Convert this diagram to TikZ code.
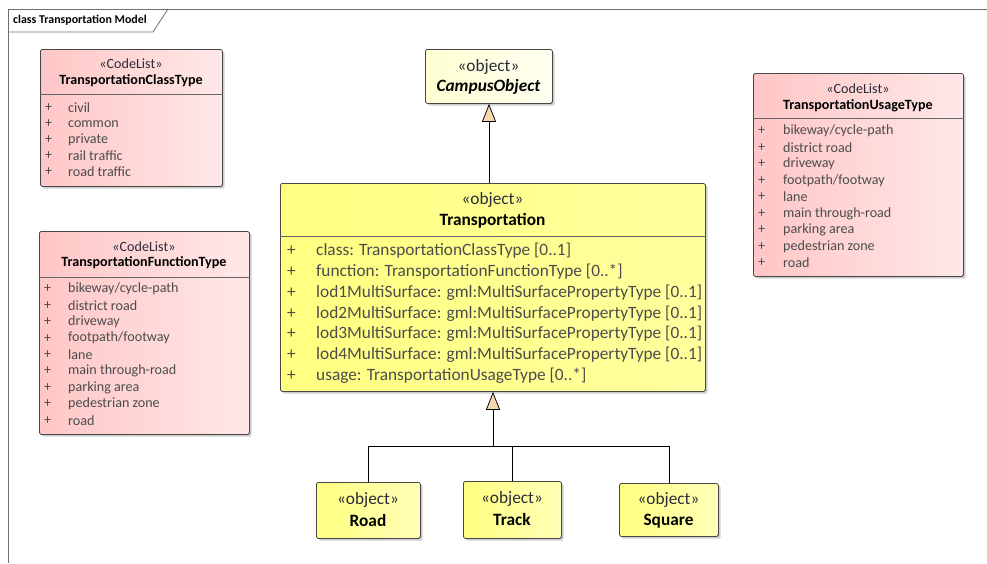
\documentclass[tikz,border=0pt]{standalone}
\usepackage{fontspec}
\setmainfont{Carlito}
\usetikzlibrary{arrows.meta,shadows}

\definecolor{clL}{HTML}{FFC6C6}
\definecolor{clR}{HTML}{FFE8E8}
\definecolor{obL}{HTML}{FFFF80}
\definecolor{obR}{HTML}{FFFFB8}
\definecolor{trR}{HTML}{FFFF9E}
\definecolor{coL}{HTML}{FFFFD2}
\definecolor{coR}{HTML}{FFFFF2}
\definecolor{itemtext}{HTML}{4C4C4C}
\definecolor{stereotext}{HTML}{2B2B3A}
\definecolor{genfill}{HTML}{F7D7AE}
\definecolor{framecol}{HTML}{6E6E6E}

\newcommand{\smallsz}{\fontsize{14.1}{17}\selectfont}
\newcommand{\bigsz}{\fontsize{17.3}{20}\selectfont}

\tikzset{
  umlbox/.style={draw=black!72, line width=0.8pt, rounded corners=1.6pt,
    anchor=north west, inner sep=0pt,
    drop shadow={shadow xshift=2.2pt, shadow yshift=-2.2pt, opacity=0.32, fill=black!60}},
  codelist/.style={umlbox, left color=clL, right color=clR},
  objbox/.style={umlbox, left color=obL, right color=obR},
  absbox/.style={umlbox, left color=coL, right color=coR},
  sepline/.style={draw=black!60, line width=0.7pt},
  stereo/.style={inner sep=0pt, text=stereotext},
  smallstereo/.style={stereo, font=\smallsz},
  bigstereo/.style={stereo, font=\bigsz},
  smallname/.style={inner sep=0pt, font=\smallsz\bfseries},
  bigname/.style={inner sep=0pt, font=\bigsz\bfseries},
  plus/.style={inner sep=0pt, anchor=west, text=itemtext},
  item/.style={inner sep=0pt, anchor=west, text=itemtext},
  smallitem/.style={item, font=\smallsz},
  bigitem/.style={item, font=\bigsz},
  gen/.style={draw=black, line width=0.75pt},
  genhead/.style={gen, -{Triangle[width=14pt, length=18pt, fill=genfill]}},
}

\begin{document}
\begin{tikzpicture}[x=1pt, y=-1pt]
\useasboundingbox (0,0) rectangle (987,563);

% diagram frame with its name tab
\coordinate (fTL) at (8,9);
\coordinate (fTR) at (987,9);
\coordinate (fBL) at (8,563);
\draw[framecol, line width=0.8pt] (fBL) -- (fTL) -- (fTR);
\draw[framecol, line width=0.8pt] (8,32) -- (153,32) -- (168,9);
\node[inner sep=0pt, anchor=west, font=\fontsize{11.9}{13}\selectfont\bfseries] (ftitle) at (13,20) {class Transportation Model};

% ---------- TransportationClassType ----------
\node[codelist, minimum width=182pt, minimum height=137pt] (ct) at (40,49) {};
\draw[sepline] (ct.west |- 0,94) -- (ct.east |- 0,94);
\node[smallstereo] (ct-st) at (131,64) {«CodeList»};
\node[smallname] (ct-nm) at (131,81) {TransportationClassType};
\foreach \t [count=\i from 0] in {civil, common, private, rail traffic, road traffic}{
  \node[plus, font=\smallsz] (ct-p\i) at (45,{108+16*\i}) {+};
  \node[smallitem] (ct-i\i) at (68,{108+16*\i}) {\t};
}

% ---------- TransportationFunctionType ----------
\node[codelist, minimum width=210pt, minimum height=203pt] (ft) at (39,231) {};
\draw[sepline] (ft.west |- 0,277) -- (ft.east |- 0,277);
\node[smallstereo] (ft-st) at (144,247) {«CodeList»};
\node[smallname] (ft-nm) at (144,263) {TransportationFunctionType};
\foreach \t [count=\i from 0] in {bikeway/cycle-path, district road, driveway, footpath/footway, lane, main through-road, parking area, pedestrian zone, road}{
  \node[plus, font=\smallsz] (ft-p\i) at (44,{289+16.4*\i}) {+};
  \node[smallitem] (ft-i\i) at (68,{289+16.4*\i}) {\t};
}

% ---------- TransportationUsageType ----------
\node[codelist, minimum width=210pt, minimum height=203pt] (ut) at (753,73) {};
\draw[sepline] (ut.west |- 0,118) -- (ut.east |- 0,118);
\node[smallstereo] (ut-st) at (858,89) {«CodeList»};
\node[smallname] (ut-nm) at (858,106) {TransportationUsageType};
\foreach \t [count=\i from 0] in {bikeway/cycle-path, district road, driveway, footpath/footway, lane, main through-road, parking area, pedestrian zone, road}{
  \node[plus, font=\smallsz] (ut-p\i) at (758,{131+16.5*\i}) {+};
  \node[smallitem] (ut-i\i) at (783,{131+16.5*\i}) {\t};
}

% ---------- CampusObject (abstract) ----------
\node[absbox, minimum width=127pt, minimum height=54pt] (co) at (425,49) {};
\node[bigstereo] (co-st) at (488.5,67) {«object»};
\node[bigname, font=\bigsz\bfseries\itshape] (co-nm) at (488.5,87) {CampusObject};

% ---------- Transportation ----------
\node[objbox, right color=trR, minimum width=425pt, minimum height=208pt] (tr) at (280,183) {};
\draw[sepline] (tr.west |- 0,236) -- (tr.east |- 0,236);
\node[bigstereo] (tr-st) at (492.5,200) {«object»};
\node[bigname] (tr-nm) at (492.5,221) {Transportation};
\foreach \t [count=\i from 0] in {
  {class: TransportationClassType [0..1]},
  {function: TransportationFunctionType [0..*]},
  {lod1MultiSurface: gml:MultiSurfacePropertyType [0..1]},
  {lod2MultiSurface: gml:MultiSurfacePropertyType [0..1]},
  {lod3MultiSurface: gml:MultiSurfacePropertyType [0..1]},
  {lod4MultiSurface: gml:MultiSurfacePropertyType [0..1]},
  {usage: TransportationUsageType [0..*]}}{
  \node[plus, font=\bigsz] (tr-p\i) at (287,{251+20.8*\i}) {+};
  \node[bigitem] (tr-i\i) at (316,{251+20.8*\i}) {\t};
}

% ---------- specialisations ----------
\node[objbox, minimum width=104pt, minimum height=56pt] (road) at (316,482) {};
\node[bigstereo] (road-st) at (368,500) {«object»};
\node[bigname] (road-nm) at (368,520) {Road};

\node[objbox, minimum width=98pt, minimum height=57pt] (track) at (463,481) {};
\node[bigstereo] (track-st) at (512,499) {«object»};
\node[bigname] (track-nm) at (512,519) {Track};

\node[objbox, minimum width=99pt, minimum height=53pt] (square) at (619,483) {};
\node[bigstereo] (square-st) at (668.5,500) {«object»};
\node[bigname] (square-nm) at (668.5,521) {Square};

% ---------- generalisations ----------
\draw[genhead] (tr.north -| 489,0) -- (co.south -| 489,0);

\coordinate (junc) at (493,446);
\draw[gen] (road.north) |- (junc);
\draw[gen] (square.north) |- (junc);
\draw[gen] (track.north) -- (track.north |- junc);
\draw[genhead] (junc) -- (tr.south -| junc);
\end{tikzpicture}
\end{document}
